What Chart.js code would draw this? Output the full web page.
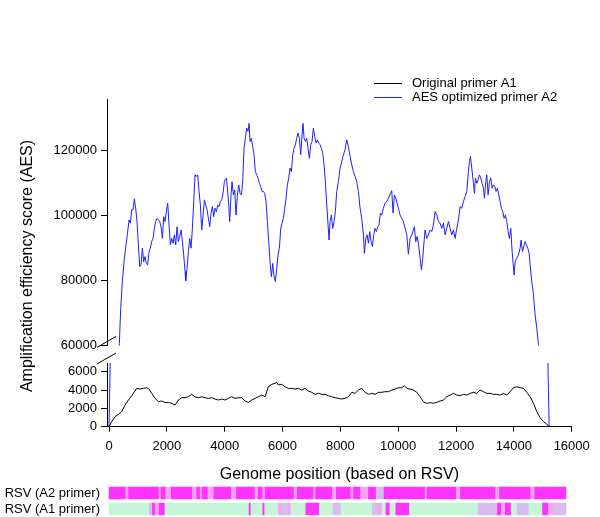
<!DOCTYPE html>
<html>
<head>
<meta charset="utf-8">
<script src="https://cdn.jsdelivr.net/npm/chart.js@4/dist/chart.umd.min.js"></script>
<style>
  html, body { margin: 0; padding: 0; background: #fff; overflow: hidden; }
  #wrap { position: relative; width: 600px; height: 517px; overflow: hidden; }
  #wrap canvas { position: absolute; left: 0; top: 0; }
</style>
</head>
<body>
<div id="wrap">
  <canvas id="upper" width="600" height="517"></canvas>
  <canvas id="lower" width="600" height="517"></canvas>
  <canvas id="strips" width="600" height="560"></canvas>
</div>
<script>
// genome position / score, AES optimized primer A2
const a2Pos = [
  0, 357, 404, 461, 530, 588, 634, 692, 738, 784,
  830, 876, 922, 969, 1015, 1061, 1107, 1153, 1199, 1245,
  1292, 1338, 1384, 1430, 1476, 1522, 1568, 1614, 1660, 1706,
  1753, 1799, 1845, 1891, 1937, 1983, 2029, 2075, 2122, 2168,
  2214, 2260, 2306, 2352, 2398, 2444, 2491, 2537, 2583, 2629,
  2652, 2698, 2744, 2790, 2836, 2883, 2929, 2975, 3021, 3067,
  3113, 3159, 3206, 3252, 3298, 3344, 3390, 3436, 3482, 3528,
  3575, 3621, 3667, 3713, 3759, 3805, 3851, 3897, 3943, 3990,
  4012, 4058, 4093, 4139, 4173, 4219, 4254, 4300, 4346, 4392,
  4439, 4485, 4531, 4577, 4623, 4669, 4715, 4761, 4808, 4842,
  4877, 4923, 4969, 5015, 5061, 5107, 5153, 5200, 5246, 5292,
  5338, 5384, 5430, 5476, 5522, 5569, 5615, 5661, 5707, 5753,
  5799, 5845, 5891, 5938, 5984, 6030, 6076, 6122, 6168, 6214,
  6260, 6306, 6353, 6399, 6445, 6491, 6537, 6583, 6629, 6675,
  6710, 6745, 6791, 6837, 6883, 6929, 6975, 7021, 7067, 7114,
  7160, 7206, 7252, 7298, 7344, 7390, 7436, 7482, 7529, 7575,
  7609, 7644, 7690, 7736, 7782, 7828, 7874, 7932, 7990, 8048,
  8105, 8163, 8221, 8278, 8336, 8394, 8451, 8509, 8566, 8624,
  8682, 8739, 8797, 8832, 8878, 8924, 8970, 9016, 9062, 9108,
  9154, 9201, 9247, 9293, 9339, 9385, 9431, 9489, 9547, 9604,
  9662, 9731, 9777, 9823, 9869, 9915, 9962, 10008, 10065, 10123,
  10181, 10238, 10296, 10353, 10411, 10469, 10527, 10561, 10607, 10653,
  10699, 10757, 10803, 10849, 10895, 10930, 10988, 11045, 11103, 11161,
  11218, 11276, 11334, 11391, 11449, 11507, 11564, 11622, 11680, 11737,
  11795, 11853, 11910, 11968, 12026, 12083, 12141, 12199, 12256, 12314,
  12372, 12429, 12464, 12498, 12544, 12602, 12637, 12671, 12717, 12764,
  12810, 12856, 12902, 12948, 12983, 13029, 13063, 13109, 13156, 13202,
  13248, 13294, 13340, 13386, 13432, 13478, 13525, 13571, 13617, 13663,
  13709, 13755, 13801, 13847, 13893, 13940, 13974, 14009, 14043, 14101,
  14159, 14216, 14251, 14297, 14343, 14389, 14435, 14482, 14528, 14562,
  14620, 14678, 14735, 14793, 14850, 15220
];
const a2Aes = [
  0, 60600, 71400, 79700, 86900, 91000, 94100, 98700, 97700, 101800,
  101800, 105200, 102300, 98200, 91000, 84300, 84800, 90000, 85800, 87400,
  85300, 84800, 88900, 90000, 92000, 93000, 96100, 98200, 99200, 98700,
  98200, 96600, 93000, 99700, 98200, 101300, 103900, 97200, 91000, 93000,
  91500, 94100, 91000, 96600, 92000, 93600, 95600, 92000, 87900, 82800,
  79900, 83800, 88900, 93000, 90000, 96100, 104400, 112600, 112100, 112600,
  107500, 103300, 95600, 100200, 104900, 103300, 101800, 99200, 96600, 100800,
  102800, 99700, 102300, 101300, 103300, 102800, 104400, 104900, 106900, 110500,
  111100, 111600, 108500, 103300, 98200, 106400, 110500, 106400, 108000, 100200,
  106400, 109500, 106900, 106400, 110500, 120800, 123900, 127000, 126000, 128500,
  122900, 123900, 121300, 118800, 113600, 112600, 111600, 110000, 109000, 107500,
  107500, 106900, 104400, 98200, 92000, 85800, 81200, 85300, 81200, 79700,
  83800, 87900, 90000, 96100, 97700, 99200, 102300, 105400, 109500, 111600,
  114700, 113600, 118800, 120800, 121900, 123900, 125500, 123900, 118800, 124900,
  128500, 123900, 122900, 123900, 120800, 117700, 121900, 122900, 127000, 124400,
  122400, 123400, 122400, 121900, 120800, 119300, 115700, 110500, 103300, 97200,
  92500, 98200, 100200, 96100, 98200, 101300, 107500, 110500, 114700, 116700,
  118800, 120300, 123400, 121300, 118300, 115700, 113600, 112100, 110500, 107500,
  102300, 99200, 94100, 88400, 93000, 94100, 91500, 95100, 92000, 90500,
  94100, 96100, 95100, 96600, 97200, 100800, 100200, 102300, 103900, 104400,
  105400, 106900, 107700, 100800, 106400, 105400, 103900, 102300, 100200, 99200,
  98200, 96100, 94100, 88100, 93000, 94100, 95600, 96600, 92000, 93600,
  91500, 86900, 83300, 86900, 92000, 95600, 93000, 94100, 95600, 95100,
  97200, 101300, 100200, 98200, 97700, 96100, 97700, 94100, 96100, 98200,
  96100, 94100, 95600, 93000, 96100, 98700, 102800, 102300, 104400, 105900,
  107500, 113600, 116700, 118300, 114700, 110000, 106900, 111600, 110000, 111100,
  112600, 111600, 110000, 108500, 105400, 110500, 112600, 106400, 110500, 111600,
  108500, 109500, 109000, 107500, 108500, 106400, 104400, 102300, 101300, 99200,
  100200, 98200, 95100, 93000, 96100, 88900, 85300, 81700, 85800, 86900,
  87900, 90000, 92500, 88900, 90500, 92000, 91000, 90000, 88400, 84800,
  79700, 75600, 69400, 65300, 60300, 0
];

// genome position / score, original primer A1
const a1Pos = [
  0, 92, 208, 323, 438, 553, 669, 784, 899, 957,
  1072, 1188, 1303, 1395, 1476, 1591, 1706, 1822, 1937, 2052,
  2168, 2283, 2398, 2514, 2629, 2744, 2860, 2975, 3090, 3205,
  3321, 3436, 3551, 3667, 3782, 3897, 4012, 4128, 4243, 4358,
  4474, 4589, 4704, 4820, 4935, 5050, 5165, 5281, 5396, 5511,
  5626, 5742, 5800, 5857, 5972, 6088, 6203, 6318, 6434, 6549,
  6664, 6780, 6895, 7010, 7126, 7241, 7356, 7471, 7587, 7702,
  7817, 7933, 8048, 8163, 8279, 8394, 8509, 8625, 8740, 8855,
  8971, 9086, 9201, 9316, 9432, 9547, 9662, 9777, 9893, 10008,
  10123, 10215, 10296, 10411, 10527, 10642, 10757, 10872, 10988, 11103,
  11218, 11334, 11449, 11564, 11680, 11795, 11910, 12026, 12141, 12256,
  12372, 12487, 12602, 12717, 12833, 12948, 13063, 13179, 13294, 13409,
  13524, 13640, 13755, 13871, 13986, 14101, 14217, 14332, 14447, 14563,
  14678, 14793, 14908, 15024, 15139, 15220
];
const a1Aes = [
  0, 550, 1090, 1350, 1640, 2360, 2910, 3380, 3890, 4180,
  4110, 4180, 4250, 4070, 3640, 3090, 2730, 2800, 2650, 2650,
  2550, 2360, 2910, 3160, 3160, 3270, 3530, 3270, 3160, 3270,
  3160, 3090, 3160, 3020, 2910, 3020, 2910, 3090, 3270, 3090,
  3160, 3160, 2800, 2650, 2910, 3090, 3270, 3450, 3270, 4360,
  4620, 4730, 4840, 4550, 4620, 4360, 4180, 4180, 4110, 4180,
  4000, 4180, 3890, 3750, 3530, 3640, 3530, 3530, 3380, 3270,
  3160, 3090, 3020, 3090, 3270, 3750, 3640, 4000, 4180, 3750,
  3530, 3640, 3530, 3750, 3750, 3820, 3820, 4000, 4110, 4250,
  4250, 4470, 4180, 4110, 4000, 3750, 3270, 2730, 2550, 2620,
  2550, 2650, 2800, 2910, 3270, 3450, 3640, 3450, 3380, 3530,
  3450, 3640, 3750, 3640, 4000, 3820, 3640, 3640, 3530, 3530,
  3450, 3640, 3450, 3820, 4250, 4360, 4250, 4180, 3750, 3270,
  2550, 1640, 980, 550, 290, 0
];

const xTicks = [0, 2000, 4000, 6000, 8000, 10000, 12000, 14000, 16000];
const upperTicks = [60000, 80000, 100000, 120000];
const lowerTicks = [0, 2000, 4000, 6000];

// strip rows: cell start positions and match level (0 low .. 3 high)
const stripRows = ['RSV (A2 primer)', 'RSV (A1 primer)'];
const stripEnd = 15800;
const a2Cuts = [0, 582, 677, 1732, 1800, 1962, 2151, 2882, 3031, 3152,
  3220, 3423, 3626, 4235, 4397, 5047, 5155, 5317, 5398, 6400,
  6508, 7076, 7144, 7726, 7861, 8362, 8456, 8700, 8970, 9241,
  9512, 10932, 11000, 12015, 12150, 13368, 13503, 14585, 14720];
const a2Levels = [3, 2, 3, 2, 3, 2, 3, 2, 3, 2,
  3, 2, 3, 2, 3, 2, 3, 2, 3, 2,
  3, 2, 3, 2, 3, 2, 3, 2, 3, 1,
  3, 2, 3, 2, 3, 2, 3, 2, 3];
const a1Cuts = [0, 1394, 1502, 1597, 1732, 1935, 4844, 4911, 5317, 5385,
  5858, 5994, 6197, 6291, 6806, 7279, 7753, 8023, 9106, 9309,
  9444, 9579, 9715, 9918, 10391, 12759, 13435, 13570, 13706, 13909,
  14112, 14518, 14991, 15194, 15397];
const a1Levels = [0, 1, 3, 2, 3, 0, 3, 0, 3, 0,
  2, 1, 2, 0, 3, 0, 1, 0, 1, 2,
  0, 3, 0, 3, 0, 1, 3, 2, 3, 0,
  1, 0, 3, 2, 1];

const yTitle = 'Amplification efficiency score (AES)';
const xTitle = 'Genome position (based on RSV)';
const levelColors = ['#c6f5d7', '#d9bcef', '#f5a6f3', '#ff33ff'];

const FONT = '"Liberation Sans", Arial, Helvetica, sans-serif';
Chart.defaults.font.family = FONT;
Chart.defaults.font.size = 13;
Chart.defaults.color = '#000';

const X_MIN = -70, X_MAX = 16000;
const AXIS_W = 107, PAD_R = 28.3;

function makeSeries() {
  return [
    {
      label: 'Original primer A1',
      data: a1Pos.map((x, i) => ({ x, y: a1Aes[i] })),
      borderColor: '#000000', borderWidth: 1, pointRadius: 0, tension: 0
    },
    {
      label: 'AES optimized primer A2',
      data: a2Pos.map((x, i) => ({ x, y: a2Aes[i] })),
      borderColor: '#1f1fff', borderWidth: 1, pointRadius: 0, tension: 0
    }
  ];
}

function yAxis(min, max, ticks) {
  return {
    type: 'linear', min, max,
    afterFit(s) { s.width = AXIS_W; },
    afterBuildTicks(s) { s.ticks = ticks.map(v => ({ value: v })); },
    grid: { display: true, drawOnChartArea: false, drawTicks: true, tickLength: 6, color: '#000' },
    border: { display: true, color: '#000', width: 1 },
    ticks: { color: '#000', padding: 4, font: { size: 13 }, callback: v => String(v) }
  };
}

function slash(ctx, x0, y0, x1, y1) {
  ctx.save();
  ctx.strokeStyle = '#000';
  ctx.lineWidth = 1;
  ctx.beginPath();
  ctx.moveTo(x0, y0);
  ctx.lineTo(x1, y1);
  ctx.stroke();
  ctx.restore();
}

const upperDecor = {
  id: 'upperDecor',
  afterDraw(chart) {
    const ctx = chart.ctx;
    const ca = chart.chartArea;
    // legend
    ctx.save();
    chart.data.datasets.forEach((ds, i) => {
      const y = 83.5 + i * 14;
      ctx.strokeStyle = ds.borderColor;
      ctx.lineWidth = 1;
      ctx.beginPath();
      ctx.moveTo(374, y);
      ctx.lineTo(402, y);
      ctx.stroke();
      ctx.fillStyle = '#000';
      ctx.font = '13px ' + FONT;
      ctx.textBaseline = 'middle';
      ctx.textAlign = 'left';
      ctx.fillText(ds.label, 412, y);
    });
    // y title
    ctx.translate(28, 266);
    ctx.rotate(-Math.PI / 2);
    ctx.font = '16px ' + FONT;
    ctx.textAlign = 'center';
    ctx.textBaseline = 'middle';
    ctx.fillText(yTitle, 0, 0);
    ctx.restore();
    // axis break
    slash(ctx, ca.left - 10, ca.bottom + 2, ca.left + 9, ca.bottom - 9);
  }
};

const lowerDecor = {
  id: 'lowerDecor',
  afterDraw(chart) {
    const ca = chart.chartArea;
    slash(chart.ctx, ca.left - 10, ca.top + 1, ca.left + 9, ca.top - 10);
  }
};

new Chart(document.getElementById('upper'), {
  type: 'line',
  data: { datasets: makeSeries() },
  options: {
    responsive: false, animation: false, devicePixelRatio: 1,
    layout: { padding: { top: 99, bottom: 517 - 345.4, left: 0, right: PAD_R } },
    plugins: { legend: { display: false }, tooltip: { enabled: false } },
    scales: {
      x: { type: 'linear', min: X_MIN, max: X_MAX, display: false },
      y: yAxis(60000, 136000, upperTicks)
    }
  },
  plugins: [upperDecor]
});

const X_AXIS_H = 57.5;
new Chart(document.getElementById('lower'), {
  type: 'line',
  data: { datasets: makeSeries() },
  options: {
    responsive: false, animation: false, devicePixelRatio: 1,
    layout: { padding: { top: 363, bottom: 517 - 426.7 - X_AXIS_H, left: 0, right: PAD_R } },
    plugins: { legend: { display: false }, tooltip: { enabled: false } },
    scales: {
      x: {
        type: 'linear', min: X_MIN, max: X_MAX,
        afterFit(s) { s.height = X_AXIS_H; },
        afterBuildTicks(s) { s.ticks = xTicks.map(v => ({ value: v })); },
        grid: { display: true, drawOnChartArea: false, drawTicks: true, tickLength: 5, color: '#000' },
        border: { display: true, color: '#000', width: 1 },
        ticks: { color: '#000', padding: 7, maxRotation: 0, autoSkip: false, font: { size: 13 }, callback: v => String(v) },
        title: { display: true, text: xTitle, color: '#000', font: { size: 16 }, padding: 0 }
      },
      y: yAxis(0, 6950, lowerTicks)
    }
  },
  plugins: [lowerDecor]
});

const cells = [];
const cellColors = [];
function addRow(label, cuts, levels) {
  cuts.forEach((c, i) => {
    const end = i + 1 < cuts.length ? cuts[i + 1] : stripEnd;
    cells.push({ y: label, x: [c, end] });
    cellColors.push(levelColors[levels[i]]);
  });
}
addRow(stripRows[0], a2Cuts, a2Levels);
addRow(stripRows[1], a1Cuts, a1Levels);

// strip canvas is taller than the page so the axis label padding never squeezes the rows
new Chart(document.getElementById('strips'), {
  type: 'bar',
  data: {
    labels: stripRows,
    datasets: [{ data: cells, backgroundColor: cellColors, borderWidth: 0, barThickness: 12, grouped: false }]
  },
  options: {
    indexAxis: 'y',
    responsive: false, animation: false, devicePixelRatio: 1,
    layout: { padding: { top: 485, bottom: 560 - 517, left: 0, right: PAD_R } },
    plugins: { legend: { display: false }, tooltip: { enabled: false } },
    scales: {
      x: { type: 'linear', min: X_MIN, max: X_MAX, display: false },
      y: {
        type: 'category',
        afterFit(s) { s.width = AXIS_W; },
        grid: { display: false, drawTicks: false },
        border: { display: false },
        ticks: { color: '#000', padding: 7, autoSkip: false, font: { size: 13 } }
      }
    }
  }
});
</script>
</body>
</html>
